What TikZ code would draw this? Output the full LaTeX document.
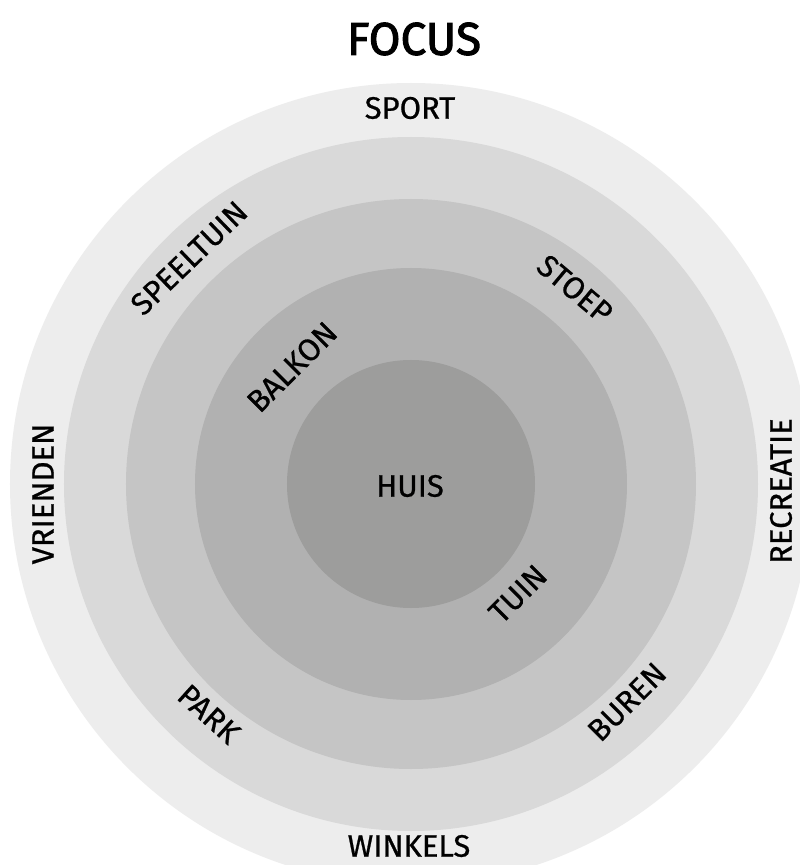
\documentclass[tikz,border=0pt]{standalone}
\usepackage{fontspec}
\setmainfont{Fira Sans}
\newfontfamily\lblfont{Fira Sans}[FakeBold=0.7]
\newfontfamily\ttlfont{Fira Sans}[FakeBold=2.2]
\definecolor{ring1}{HTML}{EDEDED}
\definecolor{ring2}{HTML}{D9D9D9}
\definecolor{ring3}{HTML}{C5C5C5}
\definecolor{ring4}{HTML}{B1B1B1}
\definecolor{ring5}{HTML}{9D9D9C}
\begin{document}
\begin{tikzpicture}[x=1pt,y=1pt,
  lbl/.style={inner sep=0pt,font=\lblfont\fontsize{31}{31}\selectfont,text=black},
  ttl/.style={inner sep=0pt,font=\ttlfont\fontsize{46}{46}\selectfont,text=black}]
\useasboundingbox (-411,-381) rectangle (389,484);
\clip (-411,-381) rectangle (389,484);
\fill[white] (-411,-381) rectangle (389,484);
\fill[ring1] (0,0) circle (401pt);
\fill[ring2] (0,0) circle (347pt);
\fill[ring3] (0,0) circle (285pt);
\fill[ring4] (0,0) circle (216pt);
\fill[ring5] (0,0) circle (124pt);
\node[ttl] (focus) at (3,445) {FOCUS};
\node[lbl] (sport) at (-1,376) {SPORT};
\node[lbl] (winkels) at (-2,-362) {WINKELS};
\node[lbl] (huis) at (-1,-2) {HUIS};
\node[lbl,rotate=44] (speeltuin) at (-222,226) {SPEELTUIN};
\node[lbl,rotate=45] (balkon) at (-119,117) {BALKON};
\node[lbl,rotate=-40] (stoep) at (164,195) {STOEP};
\node[lbl,rotate=90] (vrienden) at (-368,-10) {VRIENDEN};
\node[lbl,rotate=90] (recreatie) at (370,-7) {RECREATIE};
\node[lbl,rotate=45] (tuin) at (107,-110) {TUIN};
\node[lbl,rotate=-42] (park) at (-202,-230) {PARK};
\node[lbl,rotate=45] (buren) at (216,-218) {BUREN};
\end{tikzpicture}
\end{document}
